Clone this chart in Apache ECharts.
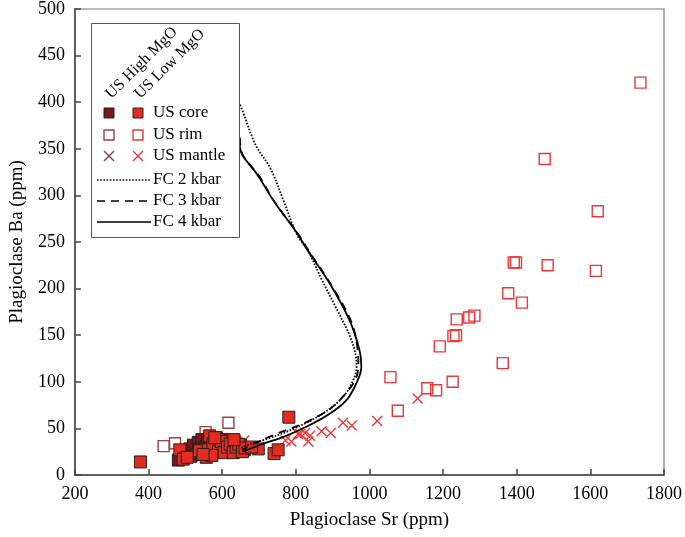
<!DOCTYPE html>
<html><head><meta charset="utf-8">
<script src="https://cdn.jsdelivr.net/npm/echarts@6/dist/echarts.min.js"></script>
<style>html,body{margin:0;padding:0;background:#fff}#c{width:685px;height:537px}</style>
</head><body><div id="c"></div>
<script>
// ---- data (Sr ppm, Ba ppm) ----
const xTicks = [200,400,600,800,1000,1200,1400,1600,1800];
const yTicks = [0,50,100,150,200,250,300,350,400,450,500];

const highCore = [[481,16],[500,25],[512,28],[522,32],[530,22],[535,35],[545,38],[552,30],[560,35],[570,30],[578,25],[585,40],[592,32],[602,38],[610,28],[618,35],[625,30],[640,27],[650,32],[660,27],[540,28],[515,20]];
const lowCore = [[378,14],[485,27],[494,17],[505,19],[538,26],[557,19],[562,27],[566,42],[575,33],[590,25],[597,36],[605,24],[614,30],[622,33],[630,24],[638,30],[645,33],[655,25],[662,29],[698,28],[741,23],[752,27],[781,62],[572,21],[632,38],[580,40],[548,22],[680,30]];
const highRim = [[441,31],[472,34],[555,46],[617,56]];
const lowRim = [[1736,421],[1476,339],[1620,283],[1392,228],[1398,228],[1484,225],[1615,219],[1377,195],[1414,185],[1237,167],[1271,169],[1285,171],[1228,149],[1235,150],[1191,138],[1362,120],[1057,105],[1157,93],[1181,91],[1226,100],[1077,69]];
const highMantle = [];
const lowMantle = [[660,37],[772,37],[788,36],[806,44],[812,44],[825,45],[834,36],[839,42],[870,47],[895,45],[928,56],[952,53],[1021,58],[1131,82]];

const fc2 = [[643,400],[651,395],[691,354],[731,329],[767,294],[803,258],[834,240],[870,210],[911,178],[946,150],[962,130],[965,116],[946,94],[911,77],[857,62],[785,48],[723,39],[669,32],[651,29]];
const fc3 = [[648,362],[650,352],[658,342],[700,321],[744,292],[802,261],[836,240],[896,204],[950,165],[968,134],[970,116],[960,101],[928,84],[893,71],[830,57],[740,43],[678,32],[655,27]];
const fc4 = [[646,365],[648,352],[655,343],[696,322],[740,294],[799,262],[834,240],[893,205],[946,166],[973,134],[978,116],[964,98],[937,80],[893,66],[830,52],[767,41],[714,34],[678,28.5],[655,25]];

const FONT = '"Liberation Serif","Times New Roman",serif';
const C = {hc:'#7d1616', lc:'#e32b20', hr:'#9e4040', lr:'#e8393a', hm:'#a03a3a', lm:'#e8383a'};
const XPATH = 'path://M0,0L10,10M10,0L0,10';

const chart = echarts.init(document.getElementById('c'), null, {renderer:'canvas'});

function sq(name, data, fill, border, bw, size){
  return {name, type:'scatter', data, symbol:'rect', symbolSize:size,
    itemStyle:{color:fill, borderColor:border, borderWidth:bw, opacity:1}, z:3};
}
function xs(name, data, col){
  return {name, type:'scatter', data, symbol:XPATH, symbolSize:10,
    itemStyle:{color:'none', borderColor:col, borderWidth:1.4, opacity:1}, z:3};
}
function ln(name, data, dash, w){
  return {name, type:'line', data, symbol:'none', smooth:0.35,
    lineStyle:{color:'#000', width:w, type:dash}, z:4};
}

// legend graphics
const LX = 91, LY = 23, LW = 148, LH = 214;
const g = [
  {type:'rect', shape:{x:LX+0.5,y:LY+0.5,width:LW,height:LH}, style:{fill:'#fff', stroke:'#555', lineWidth:1}, z:10},
  {type:'text', x:114, y:102, rotation:Math.PI/4, style:{text:'US High MgO', font:'16px '+FONT, fill:'#000', align:'left', verticalAlign:'bottom'}, z:11},
  {type:'text', x:143, y:102, rotation:Math.PI/4, style:{text:'US Low MgO', font:'16px '+FONT, fill:'#000', align:'left', verticalAlign:'bottom'}, z:11},
  {type:'rect', shape:{x:104,y:108,width:10,height:10}, style:{fill:C.hc, stroke:'#222', lineWidth:1}, z:11},
  {type:'rect', shape:{x:133,y:108,width:10,height:10}, style:{fill:C.lc, stroke:'#222', lineWidth:1}, z:11},
  {type:'rect', shape:{x:104,y:130,width:10,height:10}, style:{fill:'none', stroke:C.hr, lineWidth:1.4}, z:11},
  {type:'rect', shape:{x:133,y:130,width:10,height:10}, style:{fill:'none', stroke:C.lr, lineWidth:1.4}, z:11},
  {type:'polyline', shape:{points:[[104,151],[114,161]]}, style:{stroke:C.hm, lineWidth:1.4}, z:11},
  {type:'polyline', shape:{points:[[114,151],[104,161]]}, style:{stroke:C.hm, lineWidth:1.4}, z:11},
  {type:'polyline', shape:{points:[[133,151],[143,161]]}, style:{stroke:C.lm, lineWidth:1.4}, z:11},
  {type:'polyline', shape:{points:[[143,151],[133,161]]}, style:{stroke:C.lm, lineWidth:1.4}, z:11},
  {type:'line', shape:{x1:97,y1:180,x2:151,y2:180}, style:{stroke:'#000', lineWidth:1.6, lineDash:[1.6,1.6]}, z:11},
  {type:'line', shape:{x1:97,y1:201,x2:151,y2:201}, style:{stroke:'#000', lineWidth:1.6, lineDash:[8,6]}, z:11},
  {type:'line', shape:{x1:97,y1:222,x2:151,y2:222}, style:{stroke:'#000', lineWidth:1.6}, z:11}
];
const labels = [['US core',113],['US rim',135],['US mantle',156],['FC 2 kbar',180],['FC 3 kbar',201],['FC 4 kbar',222]];
labels.forEach(([t,y])=>{
  g.push({type:'text', x:153, y:y, style:{text:t, font:'17px '+FONT, fill:'#000', align:'left', verticalAlign:'middle'}, z:11});
});

chart.setOption({
  animation:false,
  backgroundColor:'#fff',
  grid:{left:72, right:17, top:7, bottom:62, show:true, borderColor:'#777', borderWidth:1.2, backgroundColor:'transparent'},
  xAxis:{type:'value', min:xTicks[0], max:xTicks[xTicks.length-1], interval:200,
    name:'Plagioclase Sr (ppm)', nameLocation:'middle', nameGap:36,
    nameTextStyle:{fontFamily:FONT, fontSize:19, color:'#000'},
    axisLine:{show:true, onZero:false, lineStyle:{color:'#444', width:1.5}},
    axisTick:{show:true, inside:true, length:6, lineStyle:{color:'#444', width:1.5}},
    axisLabel:{fontFamily:FONT, fontSize:18, color:'#000', margin:10, formatter:v=>String(v)},
    splitLine:{show:false}},
  yAxis:{type:'value', min:yTicks[0], max:yTicks[yTicks.length-1], interval:50,
    name:'Plagioclase Ba (ppm)', nameLocation:'middle', nameGap:44,
    nameTextStyle:{fontFamily:FONT, fontSize:19, color:'#000'},
    axisLine:{show:true, onZero:false, lineStyle:{color:'#444', width:1.5}},
    axisTick:{show:true, inside:true, length:6, lineStyle:{color:'#444', width:1.5}},
    axisLabel:{fontFamily:FONT, fontSize:18, color:'#000', margin:10, formatter:v=>String(v)},
    splitLine:{show:false}},
  series:[
    ln('FC 2 kbar', fc2, [1.6,1.6], 1.8),
    ln('FC 3 kbar', fc3, [8,6], 1.8),
    ln('FC 4 kbar', fc4, 'solid', 1.8),
    sq('US rim High MgO', highRim, 'rgba(255,255,255,0)', C.hr, 1.4, 11),
    sq('US rim Low MgO', lowRim, 'rgba(255,255,255,0)', C.lr, 1.4, 11),
    xs('US mantle High MgO', highMantle, C.hm),
    xs('US mantle Low MgO', lowMantle, C.lm),
    sq('US core High MgO', highCore, C.hc, '#222', 1, 12),
    sq('US core Low MgO', lowCore, C.lc, '#222', 1, 12)
  ],
  graphic:g
});
</script></body></html>
